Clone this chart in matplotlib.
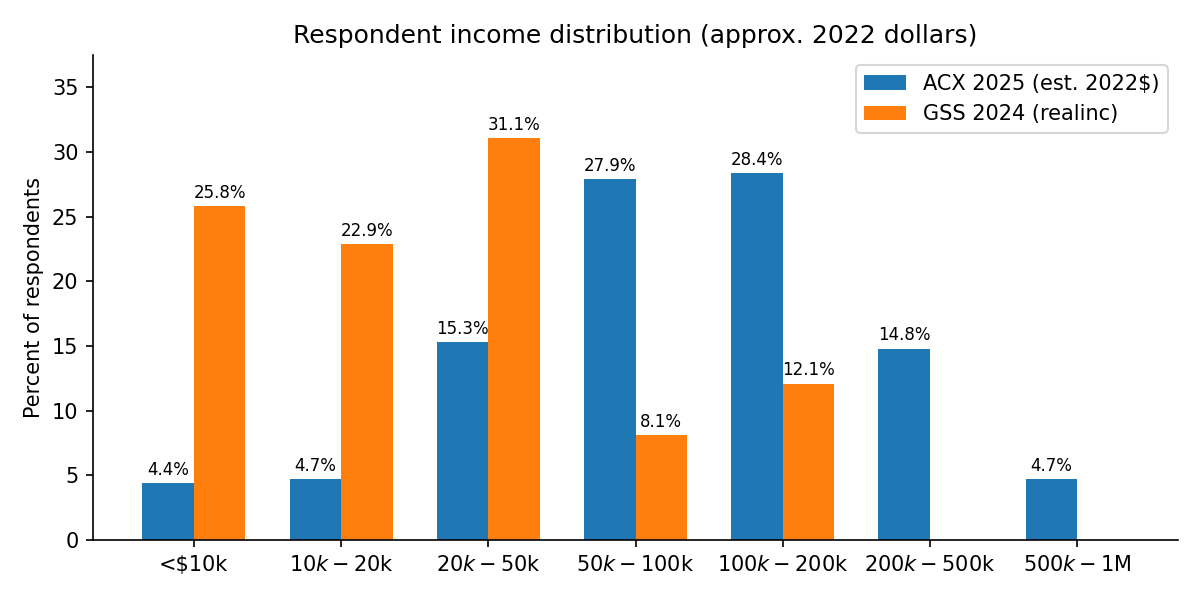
import numpy as np
import matplotlib.pyplot as plt

categories = ['<$10k', '$10k-$20k', '$20k-$50k', '$50k-$100k',
              '$100k-$200k', '$200k-$500k', '$500k-$1M']
acx = [4.4, 4.7, 15.3, 27.9, 28.4, 14.8, 4.7]
gss = [25.8, 22.9, 31.1, 8.1, 12.1, 0, 0]

x = np.arange(len(categories))
w = 0.35

fig, ax = plt.subplots(figsize=(8, 4), dpi=150)
b1 = ax.bar(x - w/2, acx, w, label='ACX 2025 (est. 2022$)', color='#1f77b4')
b2 = ax.bar(x + w/2, gss, w, label='GSS 2024 (realinc)', color='#ff7f0e')

for bars, vals in ((b1, acx), (b2, gss)):
    for bar, v in zip(bars, vals):
        if v == 0:
            continue
        ax.annotate(f'{v:.1f}%', (bar.get_x() + bar.get_width()/2, v),
                    xytext=(0, 2), textcoords='offset points',
                    ha='center', va='bottom', fontsize=8)

ax.set_xticks(x)
ax.set_xticklabels(categories)
ax.set_ylabel('Percent of respondents')
ax.set_title('Respondent income distribution (approx. 2022 dollars)')
ax.set_ylim(0, 37.5)
ax.spines['top'].set_visible(False)
ax.spines['right'].set_visible(False)
ax.legend(loc='upper right')

fig.subplots_adjust(left=0.0775, right=0.9817, top=0.9083, bottom=0.1)
fig.savefig('out.png')
